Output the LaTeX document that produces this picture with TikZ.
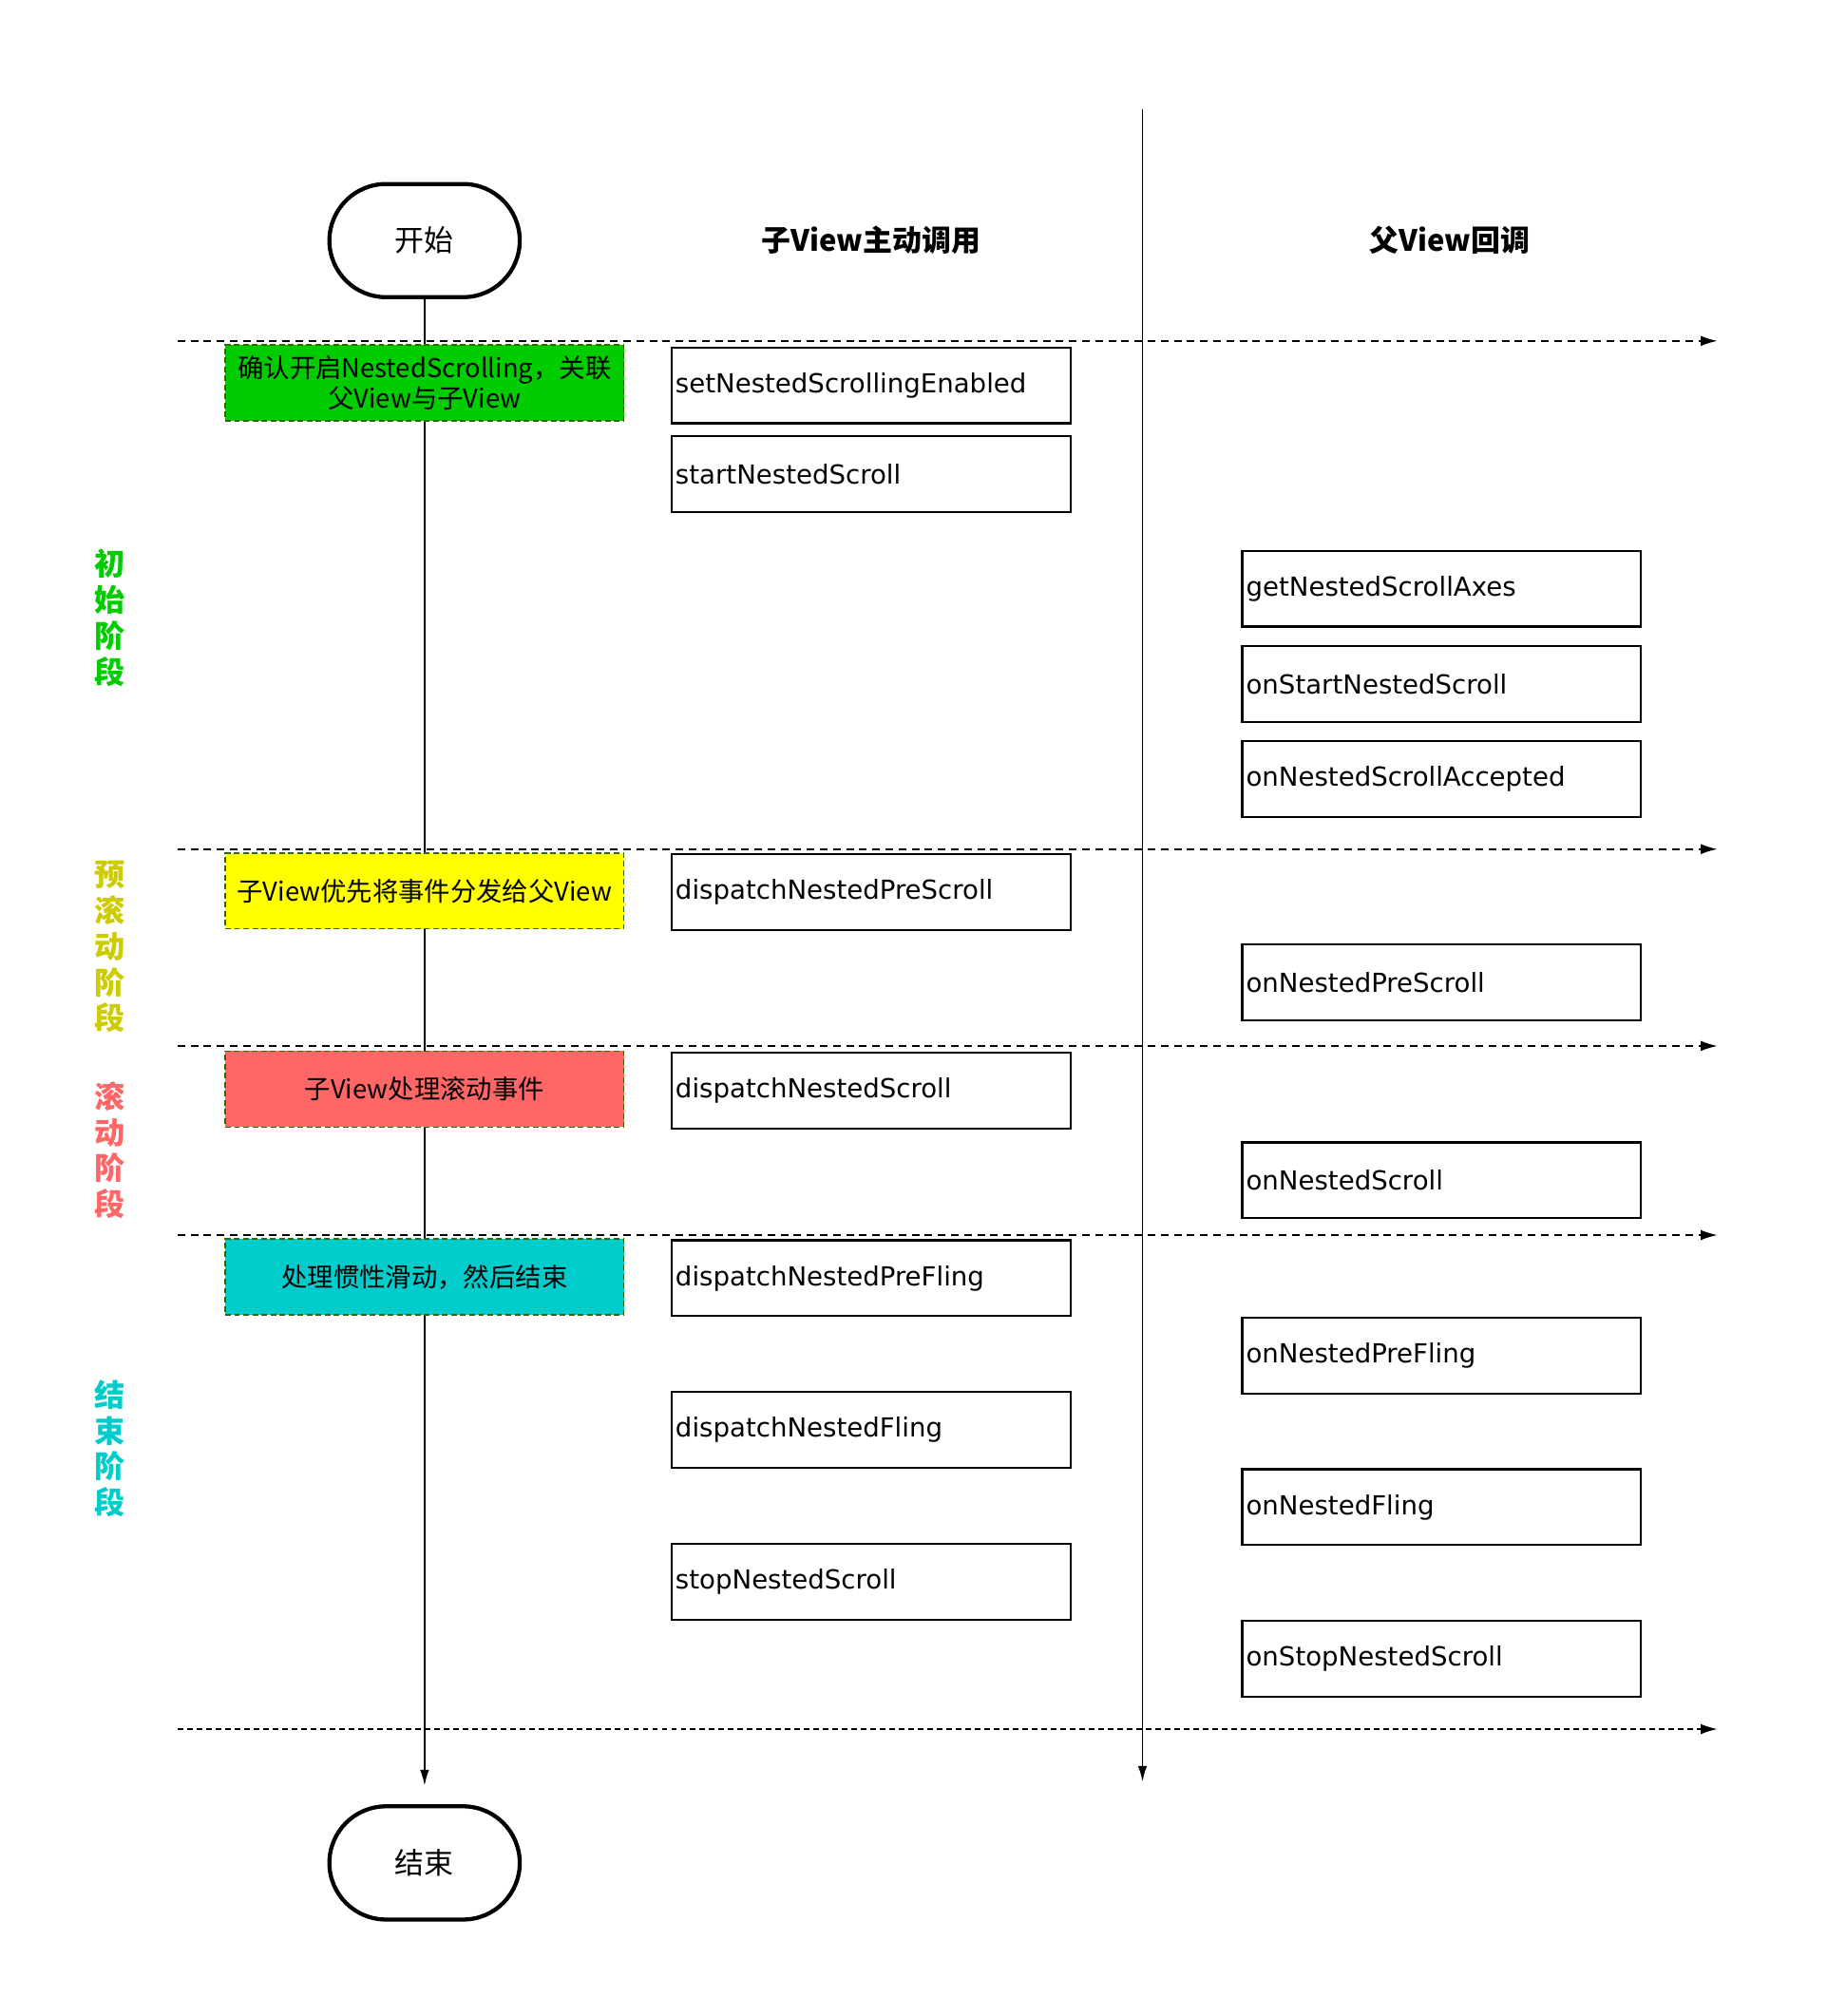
\documentclass[tikz,border=0pt]{standalone}
\usepackage{fontspec}
\setmainfont{DejaVu Sans}
\newfontfamily\cjk{Noto Sans CJK SC}
\usetikzlibrary{arrows.meta}
\definecolor{initgreen}{HTML}{00CC00}
\definecolor{preyellow}{HTML}{FFFF00}
\definecolor{prelabel}{HTML}{CCCC00}
\definecolor{scrollred}{HTML}{FF6666}
\definecolor{flingcyan}{HTML}{00CCCC}
\definecolor{boxborder}{HTML}{336600}
\begin{document}
\begin{tikzpicture}
    [
        x=0.02cm, y=-0.02cm,
        terminal/.style={rectangle, draw, fill=white, line width=1.8pt, rounded corners=0.88cm, minimum width=2.96cm, minimum height=1.76cm, font=\cjk\fontsize{13}{15}\selectfont},
        stagebox/.style={rectangle, draw=boxborder, line width=0.6pt, dash pattern=on 2.5pt off 1.5pt, minimum width=6.2cm, minimum height=1.18cm, inner sep=0pt, align=center, font=\cjk\fontsize{11.5}{13.6}\selectfont},
        method/.style={rectangle, draw, line width=0.9pt, inner xsep=0.06cm, text width=6.08cm, minimum height=1.18cm, align=left, font=\fontsize{11.6}{14}\selectfont},
        header/.style={font=\cjk\bfseries\fontsize{13}{15}\selectfont},
        phase/.style={align=center, font=\cjk\bfseries\fontsize{13.5}{15.9}\selectfont},
        separator/.style={line width=0.8pt, dash pattern=on 3.3pt off 2.5pt, -{Latex[length=7.5pt,width=4.6pt]}},
        lifeline/.style={line width=0.8pt, -{Latex[length=7pt,width=4pt]}},
    ]
    \useasboundingbox (0,0) rectangle (1420,1567);

    \node (start) at (330,187) [terminal] {开始};
    \node (end) at (330,1448) [terminal] {结束};
    \coordinate (childArrow) at (330,1388);
    \draw [lifeline] (start) -- (childArrow);
    \coordinate (parentTop) at (888,85);
    \coordinate (parentArrow) at (888,1385);
    \draw [lifeline] (parentTop) -- (parentArrow);

    \foreach \y/\n in {265/1, 660/2, 813/3, 960/4} {
        \coordinate (sepL\n) at (138,\y);
        \coordinate (sepR\n) at (1335,\y);
        \draw [separator] (sepL\n) -- (sepR\n);
    }
    \coordinate (sepL5) at (138,1344);
    \coordinate (sepR5) at (1335,1344);
    \draw [separator, dash pattern=on 2.5pt off 1.7pt] (sepL5) -- (sepR5);

    \node (childHead) at (677,187) [header] {子View主动调用};
    \node (parentHead) at (1127,187) [header] {父View回调};

    \node (phaseInit) at (85,480) [phase, text=initgreen] {初\\始\\阶\\段};
    \node (phasePre) at (85,736) [phase, text=prelabel] {预\\滚\\动\\阶\\段};
    \node (phaseScroll) at (85,894) [phase, text=scrollred] {滚\\动\\阶\\段};
    \node (phaseFling) at (85,1126) [phase, text=flingcyan] {结\\束\\阶\\段};

    \node (stageInit) at (330,297.5) [stagebox, fill=initgreen] {确认开启NestedScrolling，关联\\父View与子View};
    \node (stagePre) at (330,692.5) [stagebox, fill=preyellow] {子View优先将事件分发给父View};
    \node (stageScroll) at (330,846.5) [stagebox, fill=scrollred] {子View处理滚动事件};
    \node (stageFling) at (330,992.5) [stagebox, fill=flingcyan] {处理惯性滑动，然后结束};

    \node (setEnabled) at (677,299.5) [method] {setNestedScrollingEnabled};
    \node (startScroll) at (677,368.5) [method] {startNestedScroll};
    \node (dispPreScroll) at (677,693.5) [method] {dispatchNestedPreScroll};
    \node (dispScroll) at (677,847.5) [method] {dispatchNestedScroll};
    \node (dispPreFling) at (677,993.5) [method] {dispatchNestedPreFling};
    \node (dispFling) at (677,1111.5) [method] {dispatchNestedFling};
    \node (stopScroll) at (677,1229.5) [method] {stopNestedScroll};

    \node (getAxes) at (1120.5,457.5) [method] {getNestedScrollAxes};
    \node (onStart) at (1120.5,531.5) [method] {onStartNestedScroll};
    \node (onAccepted) at (1120.5,605.5) [method] {onNestedScrollAccepted};
    \node (onPreScroll) at (1120.5,763.5) [method] {onNestedPreScroll};
    \node (onScroll) at (1120.5,917.5) [method] {onNestedScroll};
    \node (onPreFling) at (1120.5,1053.5) [method] {onNestedPreFling};
    \node (onFling) at (1120.5,1171.5) [method] {onNestedFling};
    \node (onStop) at (1120.5,1289.5) [method] {onStopNestedScroll};
\end{tikzpicture}
\end{document}
